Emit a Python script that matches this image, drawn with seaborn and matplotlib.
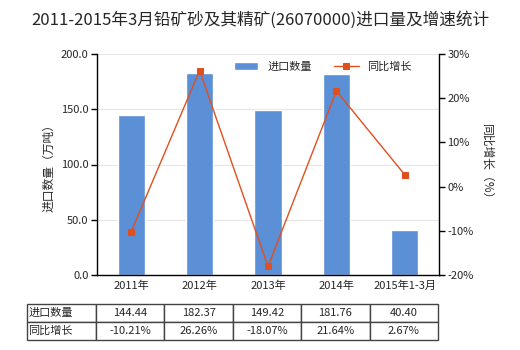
import matplotlib
matplotlib.use("Agg")
import matplotlib.pyplot as plt
import seaborn as sns
import pandas as pd
import numpy as np

categories = ["2011年", "2012年", "2013年", "2014年", "2015年1-3月"]
volume = [144.44, 182.37, 149.42, 181.76, 40.40]
growth = [-10.21, 26.26, -18.07, 21.64, 2.67]
vol_labels = ["144.44", "182.37", "149.42", "181.76", "40.40"]
growth_labels = ["-10.21%", "26.26%", "-18.07%", "21.64%", "2.67%"]
left_ticks = [0, 50, 100, 150, 200]
right_ticks = [-20, -10, 0, 10, 20, 30]

sns.set_theme(style="white")
plt.rcParams['font.family'] = ['Noto Sans CJK SC', 'DejaVu Sans']
plt.rcParams['axes.unicode_minus'] = False

W, H = 520, 350
fig = plt.figure(figsize=(5.2, 3.5), dpi=100)
ax = fig.add_axes([97 / W, 1 - 275 / H, (439 - 97) / W, (275 - 54) / H])

df = pd.DataFrame({"cat": categories, "vol": volume, "g": growth})
bar_color = "#5B8FD6"
line_color = "#E0501F"
sns.barplot(data=df, x="cat", y="vol", ax=ax, color=bar_color, width=0.4,
            saturation=1, label="进口数量")
if ax.get_legend() is not None:
    ax.get_legend().remove()
ax.set_ylim(0, 200)
ax.set_yticks(left_ticks)
ax.set_yticklabels([f"{v:.1f}" for v in left_ticks], fontsize=8)
ax.set_xlim(-0.5, 4.5)
ax.set_xlabel("")
ax.set_ylabel("进口数量（万吨）", fontsize=8.5)
ax.tick_params(axis="x", labelsize=8, length=0, pad=4)
ax.tick_params(axis="y", length=4, width=1, color="black", direction="out", left=True, pad=2)
ax.yaxis.grid(True, color="#E6E6E6", linewidth=0.8)
ax.set_axisbelow(True)
for s in ["top", "right"]:
    ax.spines[s].set_visible(False)
for s in ["left", "bottom"]:
    ax.spines[s].set_color("black")
    ax.spines[s].set_linewidth(1)

ax2 = ax.twinx()
sns.lineplot(x=np.arange(len(categories)), y=growth, ax=ax2, color=line_color,
             marker="s", markersize=5, markeredgecolor=line_color, linewidth=1,
             label="同比增长", legend=False)
ax2.set_ylim(-20, 30)
ax2.set_yticks(right_ticks)
ax2.set_yticklabels([f"{v}%" for v in right_ticks], fontsize=8)
ax2.set_ylabel("同比增长（%）", fontsize=8.5, rotation=270, labelpad=14)
ax2.tick_params(axis="y", length=4, width=1, color="black", direction="out", right=True, pad=2)
for s in ["top", "left", "bottom"]:
    ax2.spines[s].set_visible(False)
ax2.spines["right"].set_color("black")
ax2.spines["right"].set_linewidth(1)
ax2.grid(False)

h1, l1 = ax.get_legend_handles_labels()
h2, l2 = ax2.get_legend_handles_labels()
ax2.legend(h1[:1] + h2[:1], ["进口数量", "同比增长"], loc="upper right",
           bbox_to_anchor=(0.95, 1.01), ncol=2,
           frameon=False, fontsize=8, handlelength=2.2, columnspacing=2.0)

fig.text(0.5, 1 - 20 / H, "2011-2015年3月铅矿砂及其精矿(26070000)进口量及增速统计",
         ha="center", va="center", fontsize=12)

tax = fig.add_axes([27 / W, 1 - 340 / H, (438 - 27) / W, (340 - 304) / H])
tax.axis("off")
cell_text = [["进口数量"] + vol_labels, ["同比增长"] + growth_labels]
tbl = tax.table(cellText=cell_text, bbox=[0, 0, 1, 1], cellLoc="center",
                colWidths=[69] + [68.4] * 5)
tbl.auto_set_font_size(False)
tbl.set_fontsize(8)
for (r, c), cell in tbl.get_celld().items():
    cell.set_edgecolor("#444444")
    cell.set_linewidth(1)
    if c == 0:
        cell._loc = "left"
        cell.get_text().set_ha("left")
        cell.PAD = 0.02

fig.savefig("out.png", dpi=100)
